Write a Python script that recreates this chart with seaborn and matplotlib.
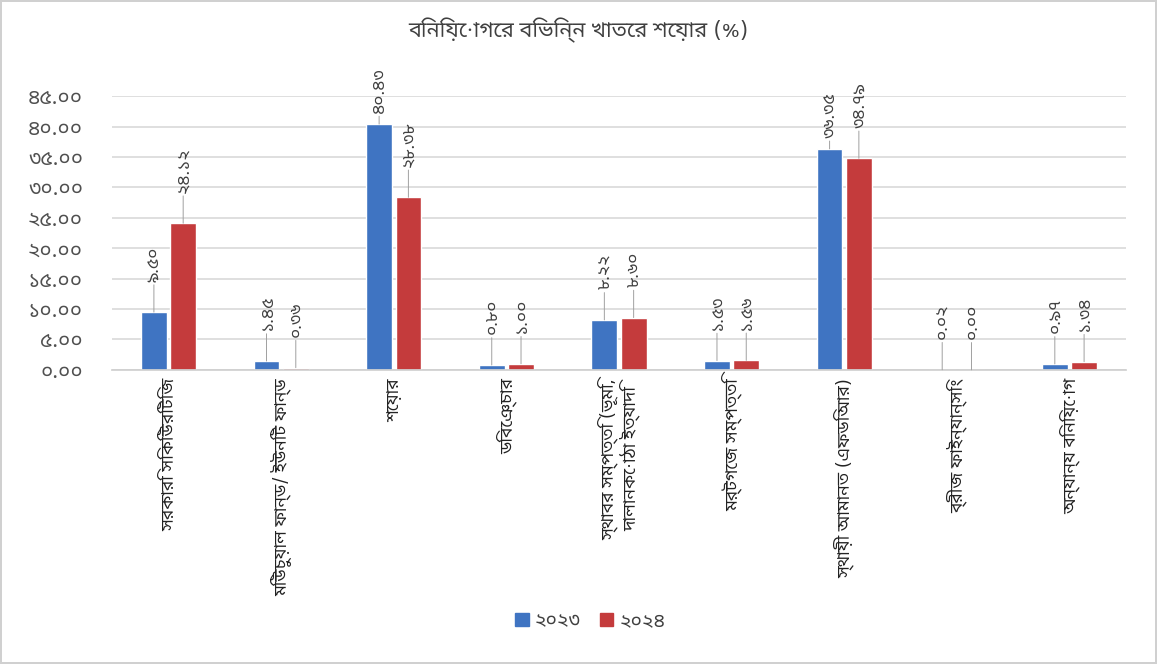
import matplotlib
matplotlib.use("Agg")
import matplotlib.pyplot as plt
import matplotlib.font_manager as fm
from matplotlib.ft2font import FT2Font
import seaborn as sns
import pandas as pd

# Chart data
categories = [
    "সরকারি সিকিউরিটিজ",
    "মিউচুয়াল ফান্ড/ ইউনিট ফান্ড",
    "শেয়ার",
    "ডিবেঞ্চার",
    "স্থাবর সম্পত্তি (ভূমি,\nদালানকোঠা ইত্যাদি",
    "মর্টগেজ সম্পত্তি",
    "স্থায়ী আমানত (এফডিআর)",
    "ব্রীজ ফাইন্যান্সিং",
    "অন্যান্য বিনিয়োগ",
]
years = ["২০২৩", "২০২৪"]
values_2023 = [9.50, 1.45, 40.43, 0.80, 8.22, 1.53, 36.35, 0.02, 0.97]
values_2024 = [24.12, 0.36, 28.38, 1.00, 8.60, 1.56, 34.79, 0.00, 1.34]
y_ticks = [0, 5, 10, 15, 20, 25, 30, 35, 40, 45]
title = "বিনিয়োগের বিভিন্ন খাতের শেয়ার (%)"

BN_DIGITS = str.maketrans("0123456789", "০১২৩৪৫৬৭৮৯")


def bn(num):
    return f"{num:.2f}".translate(BN_DIGITS)


def find_bengali_font():
    """Look through installed fonts for one that has Bengali glyphs, preferring proportional sans."""
    found = []
    seen = set()
    for f in fm.fontManager.ttflist:
        if f.fname in seen:
            continue
        seen.add(f.fname)
        try:
            cmap = FT2Font(f.fname).get_charmap()
        except Exception:
            continue
        if ord("ক") in cmap and ord("০") in cmap:
            found.append(f.name)
    if not found:
        return None

    def rank(name):
        n = name.lower()
        score = 0
        if "mono" in n:
            score += 10
        if "bengali" in n or "bangla" in n:
            score -= 5
        if "sans" in n:
            score -= 2
        if "serif" in n and "sans" not in n:
            score += 1
        return score

    found.sort(key=rank)
    return found[0]


sns.set_theme(style="whitegrid")
bn_font = find_bengali_font()
families = ([bn_font] if bn_font else []) + ["DejaVu Sans"]
plt.rcParams["font.family"] = families

df = pd.DataFrame({
    "category": categories * 2,
    "year": [years[0]] * len(categories) + [years[1]] * len(categories),
    "value": values_2023 + values_2024,
})

fig = plt.figure(figsize=(11.57, 6.64), dpi=100, edgecolor="#d0d0d0", linewidth=1.5)
ax = fig.add_axes([0.097, 0.443, 0.876, 0.412])

palette = {years[0]: "#3F74C2", years[1]: "#C43B3C"}
sns.barplot(data=df, x="category", y="value", hue="year", palette=palette,
            width=0.52, gap=0.12, saturation=1, ax=ax)

ax.set_ylim(0, 45)
ax.set_yticks(y_ticks)
ax.set_yticklabels([bn(t) for t in y_ticks], fontsize=15, color="#505050")
ax.set_xlabel("")
ax.set_ylabel("")
ax.set_xticks(range(len(categories)))
ax.set_xticklabels(categories, rotation=90, fontsize=12.5, color="#222222",
                   va="top", ha="center", linespacing=1.1)
ax.tick_params(axis="x", length=0, pad=6)
ax.tick_params(axis="y", length=0, pad=21)
ax.grid(axis="x", visible=False)
ax.grid(axis="y", color="#d9d9d9", linewidth=1.2)
for side in ["top", "right", "left"]:
    ax.spines[side].set_visible(False)
ax.spines["bottom"].set_color("#d0d0d0")

# Data labels with thin leader lines (Excel style)
for cont, vals in zip(ax.containers, [values_2023, values_2024]):
    for rect, v in zip(cont, vals):
        x = rect.get_x() + rect.get_width() / 2
        top = rect.get_height()
        off = 8 if v > 35 else 22
        ax.annotate(bn(v), xy=(x, top), xytext=(0, off), textcoords="offset points",
                    rotation=90, ha="center", va="bottom", fontsize=12.5,
                    color="#404040", annotation_clip=False,
                    arrowprops=dict(arrowstyle="-", color="#a0a0a0", lw=0.7,
                                    shrinkA=0, shrinkB=0))

ax.legend_.remove()
handles = [plt.Rectangle((0, 0), 1, 1, color=palette[y]) for y in years]
fig.legend(handles, years, loc="center", bbox_to_anchor=(0.51, 0.065), ncol=2,
           frameon=False, fontsize=14, handlelength=0.7, handleheight=0.7,
           columnspacing=1.0, handletextpad=0.3, labelcolor="#404040")

fig.text(0.5, 0.955, title, ha="center", va="center", fontsize=15.5, color="#404040")

fig.savefig("out.png", dpi=100, edgecolor=fig.get_edgecolor())
